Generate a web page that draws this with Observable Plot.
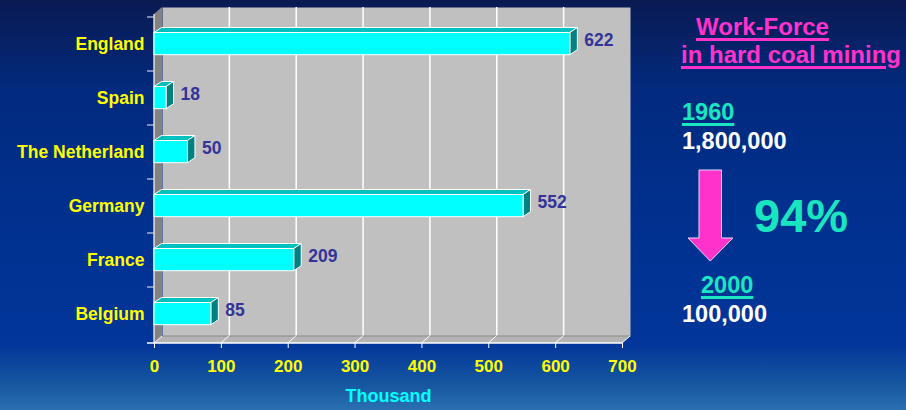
<!DOCTYPE html>
<html><head><meta charset="utf-8">
<script src="https://cdn.jsdelivr.net/npm/d3@7"></script>
<script src="https://cdn.jsdelivr.net/npm/@observablehq/plot@0.6"></script>
<style>
html,body{margin:0;padding:0;background:#0b1b55;}
#wrap{position:relative;width:906px;height:410px;overflow:hidden;font-family:"Liberation Sans",Arial,sans-serif;font-weight:bold;
background:linear-gradient(to bottom,#0a1a52 0%,#022a7e 22%,#003190 55%,#03369a 84%,#14549f 93%,#2a70b0 100%);}
#chart{position:absolute;left:0;top:0;}
.t{position:absolute;white-space:nowrap;line-height:1;font-weight:bold;}
.pink{color:#ff33cc;text-decoration:underline;text-decoration-thickness:3px;text-underline-offset:3px;}
.teal{color:#19e6c1;}
.ul{text-decoration:underline;text-decoration-thickness:3px;text-underline-offset:3px;}
.white{color:#ffffff;}
#arrow{position:absolute;left:0;top:0;}
</style></head><body>
<div id="wrap">
<div id="chart"></div>
<div class="t pink" style="left:696px;top:14.7px;font-size:24px;">Work-Force</div>
<div class="t pink" style="left:681px;top:43px;font-size:24px;">in hard coal mining</div>
<div class="t teal ul" style="left:682px;top:101.4px;font-size:23.5px;">1960</div>
<div class="t white" style="left:682px;top:129.7px;font-size:23.5px;">1,800,000</div>
<div class="t teal" style="left:754px;top:192.2px;font-size:47px;">94%</div>
<div class="t teal ul" style="left:701px;top:273.7px;font-size:23.5px;">2000</div>
<div class="t white" style="left:682px;top:302.7px;font-size:23.5px;">100,000</div>
<svg id="arrow" width="906" height="410"><polygon points="699,170 721.5,170 721.5,238 733,238 710.3,261 688,238 699,238" fill="#ff33cc" stroke="#e8d8ff" stroke-width="1"/></svg>
</div>
<script>
const countries = ["England", "Spain", "The Netherland", "Germany", "France", "Belgium"];
const workers = [622, 18, 50, 552, 209, 85];
const xTicks = [0, 100, 200, 300, 400, 500, 600, 700];
const xLabel = "Thousand";

const data = countries.map((c, i) => ({country: c, value: workers[i]}));

const WX = 8, WY = 7;       // wall depth
const DX = 7.5, DY = 5;     // bar depth
const INSET_T = 15.5, INSET_B = 16.3;

function walls(index, scales, values, dim) {
  const x = scales.x, y = scales.y;
  const x0 = x(xTicks[0]), x1 = x(xTicks[xTicks.length - 1]);
  const yTop = dim.marginTop, yBot = dim.height - dim.marginBottom;
  const g = d3.create("svg:g");
  g.append("path").attr("d", `M${x0},${yTop}L${x0+WX},${yTop-WY}L${x0+WX},${yBot-WY}L${x0},${yBot}Z`).attr("fill", "#828282");
  g.append("path").attr("d", `M${x0},${yBot}L${x0+WX},${yBot-WY}L${x1+WX},${yBot-WY}L${x1},${yBot}Z`).attr("fill", "#b4b4b4");
  g.append("line").attr("x1", x0 + WX).attr("x2", x1 + WX).attr("y1", yBot - WY).attr("y2", yBot - WY).attr("stroke", "#8a8a8a");
  for (const t of xTicks) {
    g.append("line").attr("x1", x(t)).attr("y1", yBot).attr("x2", x(t) + WX).attr("y2", yBot - WY).attr("stroke", "white").attr("stroke-width", 1);
  }
  // axis lines
  g.append("line").attr("x1", x0).attr("x2", x0).attr("y1", yTop).attr("y2", yBot).attr("stroke", "white").attr("stroke-width", 1.2);
  g.append("line").attr("x1", x0 - 7).attr("x2", x1).attr("y1", yBot).attr("y2", yBot).attr("stroke", "white").attr("stroke-width", 1.5);
  // category boundary ticks
  const bounds = y.domain().map(c => y(c));
  for (const b of bounds) {
    g.append("line").attr("x1", x0 - 7).attr("x2", x0).attr("y1", b).attr("y2", b).attr("stroke", "#c8d0e8").attr("stroke-width", 1.2);
  }
  return g.node();
}

function barFaces(index, scales) {
  const x = scales.x, y = scales.y;
  const bw = y.bandwidth();
  const g = d3.create("svg:g");
  for (const d of data) {
    const xa = x(0), xb = x(d.value);
    const ya = y(d.country) + INSET_T, yb = y(d.country) + bw - INSET_B;
    g.append("path").attr("d", `M${xa},${ya}L${xa+DX},${ya-DY}L${xb+DX},${ya-DY}L${xb},${ya}Z`)
      .attr("fill", "#00c0c0").attr("stroke", "white").attr("stroke-width", 1);
    g.append("path").attr("d", `M${xb},${ya}L${xb+DX},${ya-DY}L${xb+DX},${yb-DY}L${xb},${yb}Z`)
      .attr("fill", "#008080").attr("stroke", "white").attr("stroke-width", 1);
  }
  return g.node();
}

const chart = Plot.plot({
  width: 640,
  height: 410,
  marginLeft: 154,
  marginRight: 18,
  marginTop: 14,
  marginBottom: 67,
  style: {background: "transparent", fontFamily: "'Liberation Sans', Arial, sans-serif", fontWeight: "bold", fontSize: "17px", overflow: "visible"},
  x: {domain: [xTicks[0], xTicks[xTicks.length - 1]]},
  y: {domain: countries, padding: 0},
  marks: [
    Plot.frame({fill: "#c0c0c0", dx: WX, dy: -WY}),
    Plot.ruleX(xTicks.slice(1, -1), {x: d => d, dx: WX, dy: -WY, stroke: "white", strokeWidth: 1.5}),
    walls,
    barFaces,
    Plot.barX(data, {x: "value", y: "country", fill: "#00ffff", stroke: "white", strokeWidth: 1, insetTop: INSET_T, insetBottom: INSET_B}),
    Plot.text(data, {x: "value", y: "country", text: d => String(d.value), textAnchor: "start", dx: 14, dy: -4, fill: "#333399", fontSize: 17.5, fontWeight: "bold"}),
    Plot.axisY({tickSize: 0, tickPadding: 10, fill: "#ffff00", fontSize: 17.5, fontWeight: "bold", label: null}),
    Plot.axisX({ticks: xTicks, tickSize: 5, tickPadding: 11, stroke: "white", fill: "#ffff00", fontSize: 17, fontWeight: "bold", label: null, tickFormat: d => String(d)}),
    Plot.text([xLabel], {frameAnchor: "bottom", dy: 58, fill: "#00ffff", fontSize: 18, fontWeight: "bold"})
  ]
});
document.getElementById("chart").appendChild(chart);
</script>
</body></html>
